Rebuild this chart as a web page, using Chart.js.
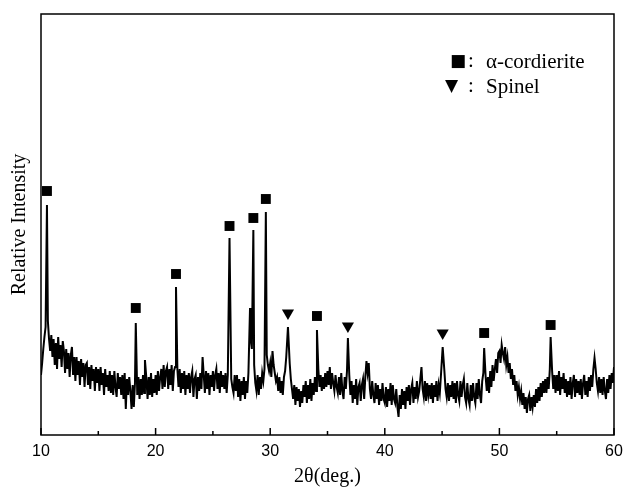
<!DOCTYPE html>
<html>
<head>
<meta charset="utf-8">
<script src="https://cdn.jsdelivr.net/npm/chart.js@4.4.0/dist/chart.umd.min.js"></script>
<style>
  html, body { margin: 0; padding: 0; background: #fff; }
  #wrap { width: 623px; height: 488px; }
</style>
</head>
<body>
<div id="wrap"><canvas id="chart" width="623" height="488"></canvas></div>
<script>
// background counts, 10.0 to 60.0 deg every 0.1 deg (one row = one degree)
const bgStart = 10, bgStep = 0.1;
const background = [
  60, 72, 86, 98, 108, 110, 114, 96, 84, 100,  // 10
  78, 96, 70, 92, 66, 98, 76, 90, 68, 94,      // 11
  84, 62, 86, 66, 82, 58, 80, 88, 60, 78,      // 12
  54, 78, 60, 74, 50, 76, 58, 72, 48, 70,      // 13
  72, 50, 68, 46, 70, 54, 66, 44, 68, 52,      // 14
  66, 44, 68, 50, 62, 40, 66, 48, 60, 44,      // 15
  64, 42, 60, 40, 64, 48, 38, 62, 46, 58,      // 16
  40, 60, 36, 62, 26, 56, 40, 58, 44, 26,      // 17
  50, 28, 52, 60, 40, 58, 36, 56, 40, 60,      // 18
  42, 70, 56, 36, 58, 40, 62, 38, 56, 42,      // 19
  60, 40, 64, 44, 58, 66, 46, 70, 48, 64,      // 20
  68, 46, 66, 50, 70, 44, 64, 68, 56, 66,      // 21
  48, 66, 42, 62, 46, 64, 40, 60, 46, 62,      // 22
  42, 58, 64, 38, 56, 60, 36, 58, 44, 62,      // 23
  46, 78, 60, 42, 64, 46, 62, 40, 60, 48,      // 24
  64, 44, 60, 66, 46, 62, 42, 64, 48, 60,      // 25
  46, 62, 42, 60, 62, 60, 56, 48, 42, 60,      // 26
  44, 60, 38, 56, 34, 54, 40, 58, 36, 54,      // 27
  42, 62, 100, 96, 86, 90, 70, 52, 44, 60,     // 28
  40, 58, 46, 62, 54, 66, 90, 80, 70, 64,      // 29
  72, 58, 84, 70, 62, 54, 58, 44, 58, 42,      // 30
  54, 40, 58, 64, 78, 90, 90, 72, 56, 46,      // 31
  36, 50, 30, 48, 34, 46, 28, 44, 32, 50,      // 32
  38, 54, 32, 50, 36, 56, 34, 52, 40, 58,      // 33
  44, 80, 66, 48, 60, 44, 58, 46, 62, 48,      // 34
  64, 50, 68, 46, 62, 52, 44, 60, 48, 42,      // 35
  58, 40, 62, 44, 36, 58, 46, 64, 90, 60,      // 36
  40, 54, 32, 50, 36, 56, 30, 48, 52, 34,      // 37
  50, 56, 36, 58, 74, 62, 72, 46, 36, 54,      // 38
  40, 32, 52, 36, 50, 30, 46, 34, 52, 36,      // 39
  32, 48, 28, 46, 34, 52, 30, 50, 36, 32,      // 40
  46, 28, 18, 40, 26, 46, 30, 44, 26, 48,      // 41
  34, 50, 30, 46, 52, 32, 48, 36, 54, 38,      // 42
  44, 56, 68, 46, 38, 54, 34, 52, 40, 50,      // 43
  36, 52, 32, 50, 38, 54, 34, 50, 42, 60,      // 44
  70, 70, 64, 46, 38, 52, 34, 50, 38, 54,      // 45
  36, 52, 32, 54, 40, 34, 54, 38, 50, 56,      // 46
  38, 32, 52, 36, 30, 50, 34, 52, 38, 32,      // 47
  52, 36, 56, 40, 32, 54, 62, 80, 58, 44,      // 48
  58, 42, 64, 48, 70, 54, 66, 76, 62, 82,      // 49
  84, 72, 90, 82, 76, 88, 70, 78, 62, 72,      // 50
  56, 66, 50, 60, 44, 54, 40, 48, 36, 44,      // 51
  30, 42, 26, 38, 22, 36, 40, 24, 38, 28,      // 52
  40, 28, 46, 32, 48, 34, 52, 38, 54, 42,      // 53
  56, 42, 58, 46, 66, 80, 64, 46, 60, 42,      // 54
  60, 44, 64, 40, 58, 46, 62, 42, 56, 38,      // 55
  54, 40, 58, 36, 52, 60, 38, 56, 42, 54,      // 56
  40, 56, 36, 52, 60, 40, 54, 38, 58, 44,      // 57
  60, 48, 66, 70, 66, 52, 44, 58, 42, 56,      // 58
  40, 58, 44, 36, 56, 42, 60, 46, 62, 52,      // 59
  68                                           // 60
];

// sharp reflections: position (deg) and top count
const peakPos    = [10.52, 18.27, 19.07, 21.78, 24.1, 26.45, 28.24, 28.53, 29.62, 31.55, 34.08, 36.78, 45.05, 48.67, 54.47, 58.3];
const peakHeight = [230,   112,   75,    148,   78,   197,   127,   205,   223,   108,   105,   97,    88,    87,    98,    77];

// phase markers
const cordieritePos = [10.52, 18.27, 21.78, 26.45, 28.53, 29.62, 34.08, 48.67, 54.47];
const cordieriteY   = [244,   127,   161,   209,   217,   236,   119,   102,   110];
const spinelPos = [31.55, 36.78, 45.05];
const spinelY   = [122,   109,   102];

const xTicksMajor = [10, 20, 30, 40, 50, 60];
const xTicksMinor = [15, 25, 35, 45, 55];

// merge background and peaks into one trace
let pattern = [];
background.forEach((v, i) => {
  const x = +(bgStart + i * bgStep).toFixed(2);
  if (!peakPos.some(p => Math.abs(p - x) < 0.059)) pattern.push({x: x, y: v});
});
peakPos.forEach((p, i) => pattern.push({x: p, y: peakHeight[i]}));
pattern.sort((a, b) => a.x - b.x);

const frame = {
  id: 'frame',
  afterDraw(chart) {
    const {ctx, chartArea: a, scales: {x}} = chart;
    ctx.save();
    ctx.strokeStyle = '#000';
    ctx.lineWidth = 1.5;
    ctx.strokeRect(a.left, a.top, a.right - a.left, a.bottom - a.top);
    ctx.beginPath();
    xTicksMajor.forEach(v => { const px = x.getPixelForValue(v); ctx.moveTo(px, a.bottom); ctx.lineTo(px, a.bottom - 7); });
    xTicksMinor.forEach(v => { const px = x.getPixelForValue(v); ctx.moveTo(px, a.bottom); ctx.lineTo(px, a.bottom - 4); });
    ctx.stroke();
    // legend
    ctx.fillStyle = '#000';
    ctx.textBaseline = 'middle';
    ctx.font = '17px "DejaVu Sans"';
    ctx.fillText('■', 450, 62);
    ctx.fillText('▼', 445, 87);
    ctx.font = '21px "Liberation Serif"';
    ctx.fillText(':', 468, 61);
    ctx.fillText(':', 468, 86);
    ctx.fillText('α-cordierite', 486, 62);
    ctx.fillText('Spinel', 486, 87);
    ctx.restore();
  }
};

new Chart(document.getElementById('chart'), {
  type: 'scatter',
  data: {
    datasets: [
      { data: pattern, showLine: true, borderColor: '#000', borderWidth: 2, pointRadius: 0, tension: 0 },
      { data: cordieritePos.map((p, i) => ({x: p, y: cordieriteY[i]})), pointStyle: 'rect', pointRadius: 7, backgroundColor: '#000', borderWidth: 0 },
      { data: spinelPos.map((p, i) => ({x: p, y: spinelY[i]})), pointStyle: 'triangle', rotation: 180, pointRadius: 7, backgroundColor: '#000', borderWidth: 0 }
    ]
  },
  options: {
    responsive: false,
    animation: false,
    layout: { padding: { top: 14, right: 9, left: 0, bottom: 0 } },
    plugins: { legend: { display: false }, tooltip: { enabled: false } },
    scales: {
      x: {
        type: 'linear', min: 10, max: 60,
        afterFit: s => { s.height = 53; s.paddingLeft = 0; s.paddingRight = 0; },
        ticks: { stepSize: 10, color: '#000', padding: 7, font: { family: '"Liberation Sans", Arial', size: 16 } },
        grid: { display: false, drawTicks: false },
        border: { display: false },
        title: { display: true, text: '2θ(deg.)', color: '#000', padding: { top: 0, bottom: 0 }, font: { family: '"Liberation Serif"', size: 20, lineHeight: 1.1 } }
      },
      y: {
        min: 0, max: 421,
        afterFit: s => { s.width = 41; },
        ticks: { display: false },
        grid: { display: false, drawTicks: false },
        border: { display: false },
        title: { display: true, text: 'Relative Intensity', color: '#000', padding: { top: 9, bottom: 0 }, font: { family: '"Liberation Serif"', size: 20, lineHeight: 1.1 } }
      }
    }
  },
  plugins: [frame]
});
</script>
</body>
</html>
